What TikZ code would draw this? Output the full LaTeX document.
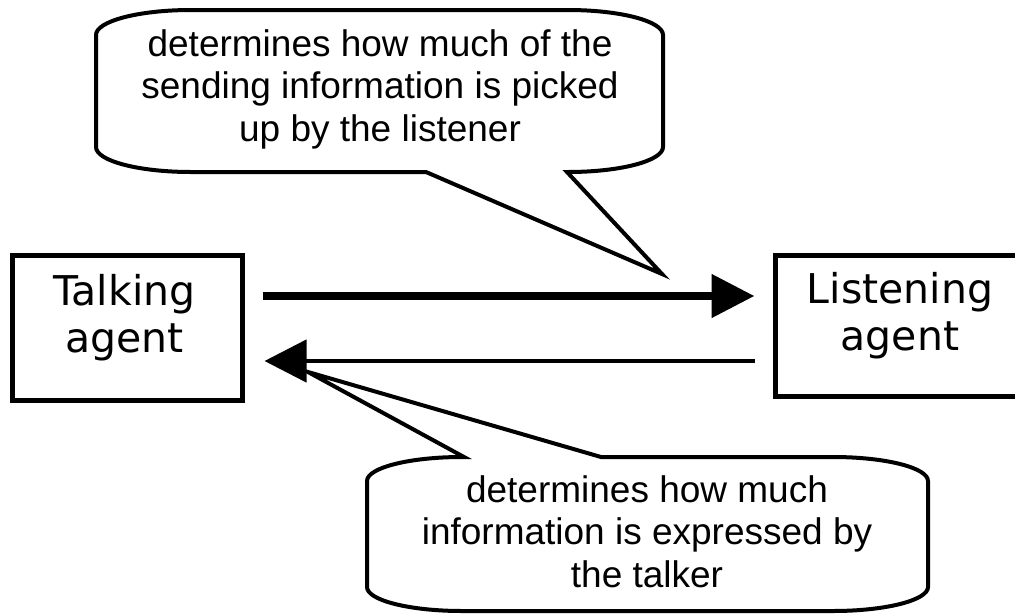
\documentclass[tikz,border=0pt]{standalone}
\usepackage{fontspec}
\newfontfamily\calloutfont{Liberation Sans}
\newfontfamily\boxfont{DejaVu Sans}
\usetikzlibrary{arrows.meta}
\tikzset{
  agentbox/.style={draw=black, line width=5pt, minimum width=#1, inner sep=0pt},
  agenttext/.style={font=\boxfont\fontsize{41}{47}\selectfont, align=center, inner sep=0pt, anchor=base},
  callouttext/.style={font=\calloutfont\fontsize{37}{42.5}\selectfont, align=center, inner sep=0pt, anchor=base},
  calloutshape/.style={draw=black, line width=4pt, fill=white, line join=miter},
  thickarrow/.style={line width=8pt, -{Triangle[length=43pt,width=42pt]}},
  thinarrow/.style={line width=4.5pt, -{Triangle[length=42pt,width=42pt]}},
}
\begin{document}
\begin{tikzpicture}[x=1pt,y=-1pt]
\useasboundingbox (0,0) rectangle (1015,614);
% boxes
\node[agentbox=230pt, minimum height=145pt] (talk) at (127.5,328) {};
\node[agentbox=248.5pt, minimum height=141pt] (listen) at (899.75,326) {};
\node[agenttext] (talktext) at (124.5,352) {Talking\\agent};
\node[agenttext] (listentext) at (900,350) {Listening\\agent};
% arrows
\draw[thickarrow, shorten <=17.5pt, shorten >=18.5pt]
  ([yshift=32pt]talk.east) -- ([yshift=30pt]listen.west);
\draw[thinarrow, shorten <=18.5pt, shorten >=19.5pt]
  ([yshift=-35pt]listen.west) -- ([yshift=-33pt]talk.east);
% top callout
\draw[calloutshape]
  (186,10) -- (568,10)
  arc[start angle=-90, end angle=0, x radius=95, y radius=25]
  -- (663,147)
  arc[start angle=0, end angle=90, x radius=95, y radius=25]
  -- (567,172) -- (662,274) -- (426,172) -- (191,172)
  arc[start angle=90, end angle=180, x radius=95, y radius=25]
  -- (96,35)
  arc[start angle=180, end angle=270, x radius=95, y radius=25]
  -- cycle;
\node[callouttext] (toptext) at (380,141)
  {determines how much of the\\sending information is picked\\up by the listener};
% bottom callout
\draw[calloutshape]
  (462,457) -- (464,457) -- (308,372) -- (601,457) -- (833,457)
  arc[start angle=-90, end angle=0, x radius=95, y radius=24]
  -- (928,587)
  arc[start angle=0, end angle=90, x radius=95, y radius=24]
  -- (462,611)
  arc[start angle=90, end angle=180, x radius=95, y radius=24]
  -- (367,481)
  arc[start angle=180, end angle=270, x radius=95, y radius=24]
  -- cycle;
\node[callouttext] (bottext) at (647,587)
  {determines how much\\information is expressed by\\the talker};
\end{tikzpicture}
\end{document}
